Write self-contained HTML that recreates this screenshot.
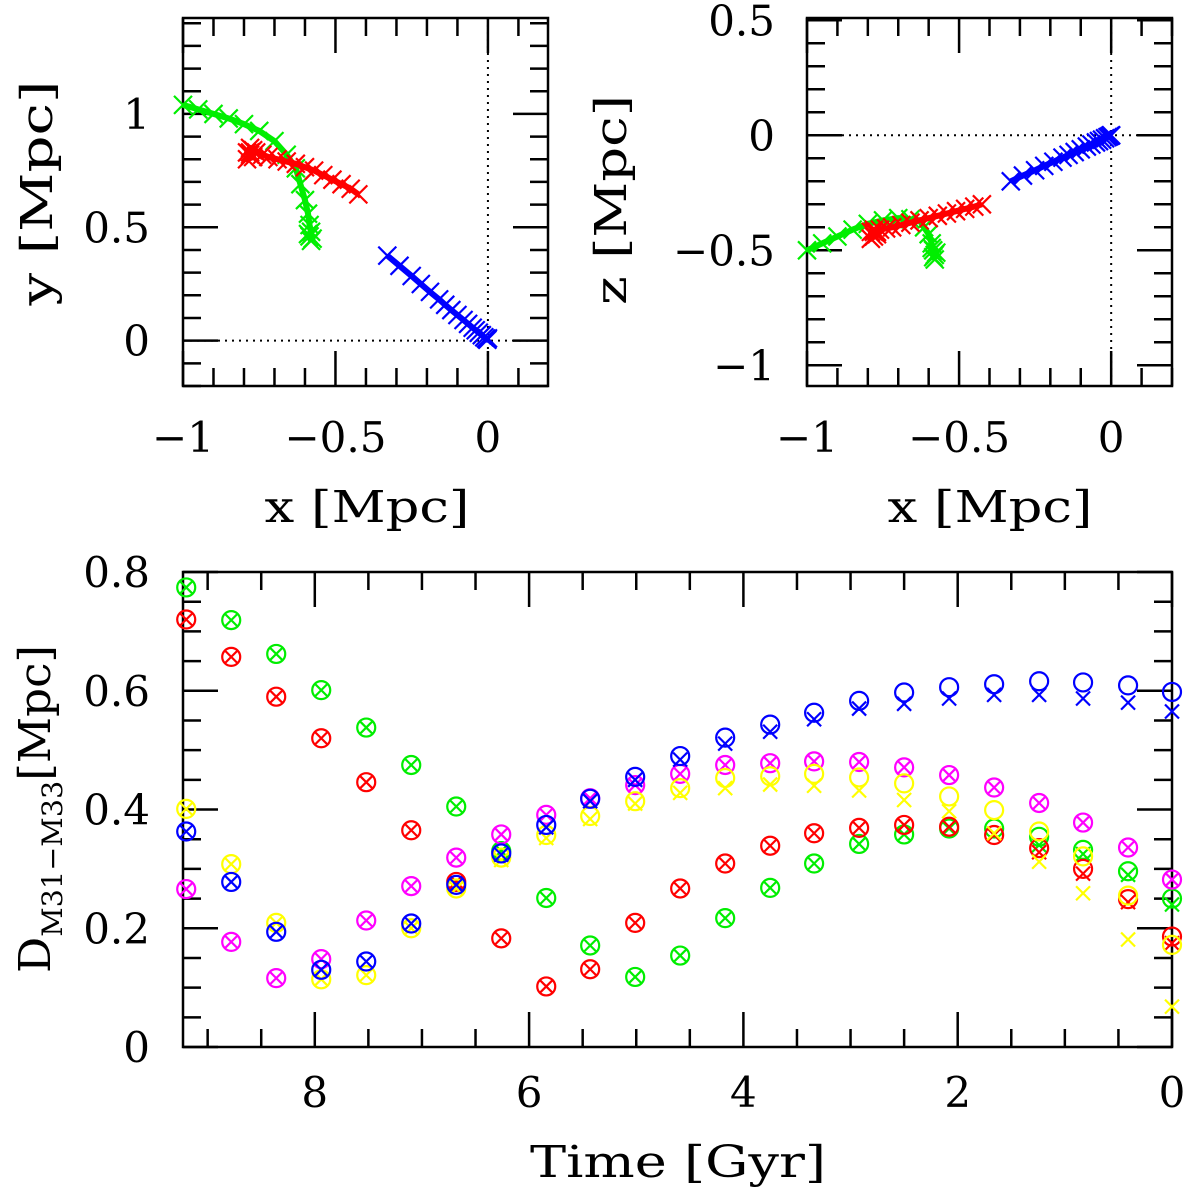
<!DOCTYPE html>
<html><head><meta charset="utf-8"><style>
html,body{margin:0;padding:0;background:#fff;}
svg{display:block;}
text{font-family:"DejaVu Serif","Liberation Serif",serif;fill:#000;}
</style></head><body>
<svg id="fig" width="1200" height="1194" viewBox="0 0 1200 1194" xmlns="http://www.w3.org/2000/svg"></svg>
<script>
// ---- trajectory data (Mpc) ----
const blueX = [-0.33,-0.29,-0.25,-0.22,-0.19,-0.16,-0.14,-0.12,-0.10,-0.08,-0.065,-0.05,-0.04,-0.03,-0.02,-0.012,-0.006,-0.002,0];
const blueY = [0.375,0.33,0.285,0.25,0.215,0.182,0.158,0.135,0.113,0.091,0.074,0.057,0.046,0.035,0.024,0.015,0.009,0.004,0.01];
const blueZ = [-0.2,-0.175,-0.152,-0.133,-0.115,-0.097,-0.085,-0.073,-0.061,-0.049,-0.04,-0.031,-0.025,-0.019,-0.013,-0.008,-0.004,-0.001,0];
const redX = [-0.425,-0.45,-0.48,-0.51,-0.54,-0.57,-0.60,-0.63,-0.66,-0.69,-0.72,-0.74,-0.76,-0.77,-0.78,-0.79,-0.78,-0.77,-0.79,-0.78];
const redY = [0.645,0.67,0.69,0.71,0.73,0.75,0.765,0.78,0.79,0.80,0.81,0.82,0.83,0.84,0.82,0.83,0.85,0.81,0.80,0.83];
const redZ = [-0.30,-0.31,-0.32,-0.33,-0.34,-0.35,-0.36,-0.37,-0.38,-0.39,-0.40,-0.405,-0.41,-0.42,-0.44,-0.42,-0.41,-0.43,-0.45,-0.42];
const greenX = [-1.0,-0.95,-0.9,-0.85,-0.8,-0.75,-0.7,-0.66,-0.63,-0.615,-0.6,-0.59,-0.585,-0.58,-0.585,-0.575,-0.59,-0.58];
const greenY = [1.04,1.02,1.0,0.98,0.955,0.925,0.88,0.82,0.76,0.69,0.62,0.56,0.51,0.48,0.46,0.45,0.47,0.44];
const greenZ = [-0.5,-0.47,-0.44,-0.41,-0.385,-0.37,-0.36,-0.365,-0.37,-0.40,-0.43,-0.47,-0.50,-0.52,-0.53,-0.51,-0.49,-0.54];

// ---- distance vs time data ----
const times = [9.2,8.78,8.36,7.94,7.52,7.1,6.68,6.26,5.84,5.43,5.01,4.59,4.17,3.75,3.34,2.92,2.5,2.08,1.66,1.24,0.83,0.41,0];
const greenCirc = [0.774,0.719,0.662,0.601,0.538,0.475,0.405,0.330,0.251,0.171,0.118,0.154,0.217,0.268,0.309,0.342,0.358,0.368,0.368,0.354,0.332,0.296,0.250];
const greenCross = [0.774,0.719,0.662,0.601,0.538,0.475,0.405,0.330,0.251,0.171,0.118,0.154,0.217,0.268,0.309,0.342,0.358,0.368,0.357,0.340,0.325,0.290,0.240];
const redCirc = [0.720,0.657,0.590,0.520,0.446,0.365,0.278,0.183,0.102,0.131,0.209,0.267,0.309,0.339,0.360,0.369,0.374,0.371,0.357,0.335,0.300,0.249,0.186];
const redCross = [0.720,0.657,0.590,0.520,0.446,0.365,0.278,0.183,0.102,0.131,0.209,0.267,0.309,0.339,0.360,0.369,0.374,0.371,0.357,0.328,0.292,0.244,0.175];
const blueCirc = [0.363,0.278,0.194,0.130,0.144,0.208,0.273,0.326,0.374,0.418,0.455,0.490,0.521,0.543,0.563,0.583,0.597,0.606,0.611,0.616,0.614,0.609,0.598];
const blueCross = [0.363,0.278,0.194,0.130,0.144,0.208,0.273,0.324,0.370,0.414,0.450,0.484,0.511,0.531,0.552,0.570,0.578,0.587,0.593,0.593,0.587,0.580,0.565];
const magCirc = [0.266,0.177,0.116,0.148,0.213,0.271,0.319,0.358,0.391,0.419,0.441,0.460,0.475,0.478,0.481,0.480,0.471,0.458,0.437,0.411,0.378,0.336,0.282];
const magCross = magCirc;
const yelCirc = [0.401,0.308,0.209,0.114,0.121,0.200,0.267,0.319,0.357,0.389,0.414,0.436,0.453,0.456,0.460,0.454,0.444,0.422,0.399,0.363,0.321,0.255,0.172];
const yelCross = [0.401,0.308,0.209,0.114,0.121,0.200,0.267,0.315,0.352,0.384,0.410,0.428,0.436,0.442,0.440,0.432,0.416,0.397,0.360,0.312,0.259,0.181,0.068];

const NS='http://www.w3.org/2000/svg';
const svg=document.getElementById('fig');
function mk(tag,attrs,parent){const e=document.createElementNS(NS,tag);for(const k in attrs)e.setAttribute(k,attrs[k]);(parent||svg).appendChild(e);return e;}

function panel(name,L,T,R,B,xmin,xmax,ymin,ymax){
  const g=mk('g',{});
  
  
  const sx=v=>L+(v-xmin)/(xmax-xmin)*(R-L);
  const sy=v=>B-(v-ymin)/(ymax-ymin)*(B-T);
  return {g,sx,sy,L,T,R,B};
}
function ticks(p,axis,min,max,minorStep,majorStep){
  const n=Math.round((max-min)/minorStep);
  for(let i=0;i<=n+1;i++){
    const v=Math.ceil(min/minorStep-1e-6)*minorStep+i*minorStep;
    if(v>max+1e-9)break;
    const isMaj=Math.abs(v/majorStep-Math.round(v/majorStep))<1e-6;
    const len=isMaj?35:18;
    if(axis==='x'){const x=p.sx(v);
      mk('line',{x1:x,y1:p.B,x2:x,y2:p.B-len,stroke:'#000','stroke-width':2.5},p.g);
      mk('line',{x1:x,y1:p.T,x2:x,y2:p.T+len,stroke:'#000','stroke-width':2.5},p.g);
    }else{const y=p.sy(v);
      mk('line',{x1:p.L,y1:y,x2:p.L+len,y2:y,stroke:'#000','stroke-width':2.5},p.g);
      mk('line',{x1:p.R,y1:y,x2:p.R-len,y2:y,stroke:'#000','stroke-width':2.5},p.g);
    }
  }
}
function frame(p){mk('rect',{x:p.L,y:p.T,width:p.R-p.L,height:p.B-p.T,fill:'none',stroke:'#000','stroke-width':2.5},p.g);}
function label(txt,x,y,anchor,size,name,tl){
  const t=mk('text',{x:x,y:y,'text-anchor':anchor,'font-size':size});
  if(tl){t.setAttribute('textLength',tl);t.setAttribute('lengthAdjust','spacingAndGlyphs');}
  t.textContent=txt;
  
  
  return t;
}
function cross(g,x,y,h,col,w){
  mk('path',{d:`M${x-h},${y-h}L${x+h},${y+h}M${x-h},${y+h}L${x+h},${y-h}`,stroke:col,'stroke-width':w,fill:'none'},g);
}
function traj(p,xs,ys,col,name){
  const g=mk('g',{},p.g);
  
  
  let d='';
  xs.forEach((v,i)=>{d+=(i?'L':'M')+p.sx(v)+','+p.sy(ys[i]);});
  mk('path',{d:d,stroke:col,'stroke-width':6,fill:'none','stroke-linejoin':'round'},g);
  xs.forEach((v,i)=>cross(g,p.sx(v),p.sy(ys[i]),9,col,2.2));
}

// ---- top-left: x-y ----
const p1=panel('xy-panel',183,18,548,386,-1,0.197,-0.2,1.423);
frame(p1);
mk('line',{x1:p1.sx(0),y1:p1.T,x2:p1.sx(0),y2:p1.B,stroke:'#000','stroke-width':2,'stroke-dasharray':'2,5'},p1.g);
mk('line',{x1:p1.L,y1:p1.sy(0),x2:p1.R,y2:p1.sy(0),stroke:'#000','stroke-width':2,'stroke-dasharray':'2,5'},p1.g);
ticks(p1,'x',-1,0.197,0.1,0.5);ticks(p1,'y',-0.2,1.423,0.1,0.5);
traj(p1,greenX,greenY,'#00ee00','green-trajectory-xy');
traj(p1,redX,redY,'#ff0000','red-trajectory-xy');
traj(p1,blueX,blueY,'#0000ff','blue-trajectory-xy');
[['−1',-1],['−0.5',-0.5],['0',0]].forEach(a=>label(a[0],p1.sx(a[1]),452,'middle',42,'x-tick-label'));
[['1',1],['0.5',0.5],['0',0]].forEach(a=>label(a[0],150,p1.sy(a[1])+15,'end',42,'y-tick-label'));
label('x [Mpc]',367,522,'middle',44,'x-axis-title',205);
{const t=label('y [Mpc]',0,0,'middle',44,'y-axis-title',225);t.setAttribute('transform','translate(52,193) rotate(-90)');}

// ---- top-right: x-z ----
const p2=panel('xz-panel',807,18,1172,386,-1,0.2,-1.09,0.51);
frame(p2);
mk('line',{x1:p2.sx(0),y1:p2.T,x2:p2.sx(0),y2:p2.B,stroke:'#000','stroke-width':2,'stroke-dasharray':'2,5'},p2.g);
mk('line',{x1:p2.L,y1:p2.sy(0),x2:p2.R,y2:p2.sy(0),stroke:'#000','stroke-width':2,'stroke-dasharray':'2,5'},p2.g);
ticks(p2,'x',-1,0.2,0.1,0.5);ticks(p2,'y',-1.09,0.51,0.1,0.5);
traj(p2,greenX,greenZ,'#00ee00','green-trajectory-xz');
traj(p2,redX,redZ,'#ff0000','red-trajectory-xz');
traj(p2,blueX,blueZ,'#0000ff','blue-trajectory-xz');
[['−1',-1],['−0.5',-0.5],['0',0]].forEach(a=>label(a[0],p2.sx(a[1]),452,'middle',42,'x-tick-label'));
[['0.5',0.5],['0',0],['−0.5',-0.5],['−1',-1]].forEach(a=>label(a[0],775,p2.sy(a[1])+15,'end',42,'z-tick-label'));
label('x [Mpc]',990,522,'middle',44,'x-axis-title',205);
{const t=label('z [Mpc]',0,0,'middle',44,'z-axis-title',210);t.setAttribute('transform','translate(626,200) rotate(-90)');}

// ---- bottom: distance vs time ----
const p3=panel('distance-panel',183,572,1172,1047,9.23,0,0,0.8);
frame(p3);
ticks(p3,'x',0,9.23,0.5,2);ticks(p3,'y',0,0.8,0.05,0.2);
const series=[['green',greenCirc,greenCross,'#00ee00'],['red',redCirc,redCross,'#ff0000'],['magenta',magCirc,magCross,'#ff00ff'],['yellow',yelCirc,yelCross,'#ffff00'],['blue',blueCirc,blueCross,'#0000ff']];
series.forEach(s=>{
  const g=mk('g',{},p3.g);
  
  
  times.forEach((t,i)=>{
    const x=p3.sx(t);
    const c=mk('circle',{cx:x,cy:p3.sy(s[1][i]),r:9,fill:'none',stroke:s[3],'stroke-width':2.2},g);
    
    
    cross(g,x,p3.sy(s[2][i]),7,s[3],2.2);
  });
});
[['8',8],['6',6],['4',4],['2',2],['0',0]].forEach(a=>label(a[0],p3.sx(a[1]),1107,'middle',42,'time-tick-label'));
[['0.8',0.8],['0.6',0.6],['0.4',0.4],['0.2',0.2],['0',0]].forEach(a=>label(a[0],150,p3.sy(a[1])+15,'end',42,'distance-tick-label'));
label('Time [Gyr]',678,1177,'middle',44,'time-axis-title',296);
{const t=mk('text',{'font-size':44,'text-anchor':'middle',transform:'translate(50,809) rotate(-90)',textLength:328,lengthAdjust:'spacingAndGlyphs'});


t.innerHTML='D<tspan font-size="28" dy="12">M31−M33</tspan><tspan dy="-12">[Mpc]</tspan>';}
</script>
</body></html>
